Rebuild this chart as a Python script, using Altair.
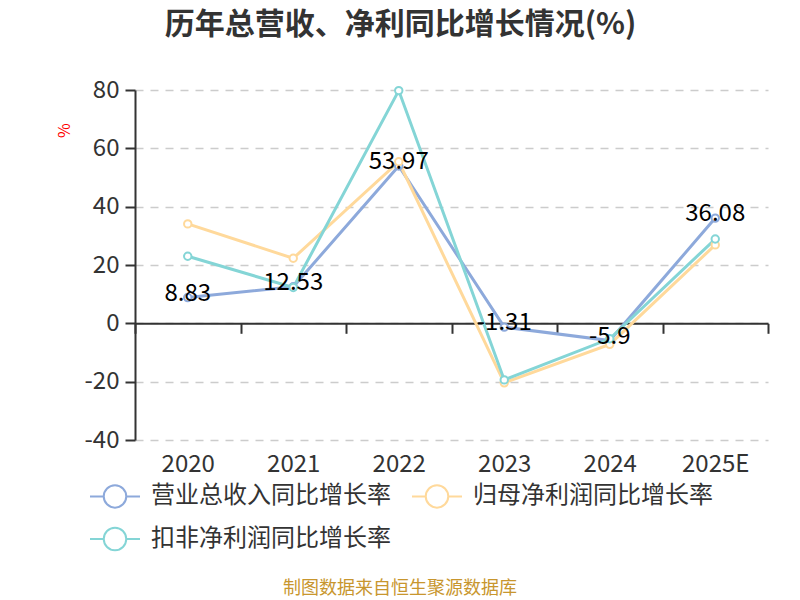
import altair as alt
import pandas as pd

years = ["2020", "2021", "2022", "2023", "2024", "2025E"]
series_names = ["营业总收入同比增长率", "归母净利润同比增长率", "扣非净利润同比增长率"]
revenue = [8.83, 12.53, 53.97, -1.31, -5.9, 36.08]
net_profit = [34.1, 22.3, 55.4, -20.4, -7.2, 26.9]
deducted = [23.0, 12.3, 79.8, -19.4, -5.3, 28.9]
colors = ["#8DA9DB", "#FFD99B", "#84D5D6"]

rows = []
for name, vals in zip(series_names, [revenue, net_profit, deducted]):
    for i, (y, v) in enumerate(zip(years, vals)):
        rows.append({"year": y, "value": v, "series": name, "order": series_names.index(name)})
df = pd.DataFrame(rows)
label_df = pd.DataFrame({"year": years, "value": revenue, "label": [f"{v:g}" for v in revenue]})

FONT = "Noto Sans CJK SC"

x_enc = alt.X(
    "year:N",
    sort=years,
    scale=alt.Scale(type="band", paddingInner=0, paddingOuter=0),
    bandPosition=0.5,
    axis=alt.Axis(
        title=None,
        labelAngle=0,
        labelFontSize=24,
        labelFont=FONT,
        labelColor="#333333",
        labelBaseline="top",
        labelPadding=119,
        domainColor="#333333",
        domainWidth=2,
        tickColor="#333333",
        tickWidth=2,
        tickSize=10,
        tickBand="extent",
        offset=-116.7,
        grid=False,
    ),
)
y_enc = alt.Y(
    "value:Q",
    scale=alt.Scale(domain=[-40, 80], nice=False, zero=False),
    axis=alt.Axis(
        title="%",
        titleColor="#FF0000",
        titleFontSize=16,
        titleFontWeight="normal",
        titleFont=FONT,
        titleX=-63,
        titleY=40,
        titleAlign="center",
        values=[-40, -20, 0, 20, 40, 60, 80],
        labelExpr="toString(datum.value)",
        labelFontSize=24,
        labelFont=FONT,
        labelColor="#333333",
        labelPadding=6,
        domainColor="#333333",
        domainWidth=2,
        tickColor="#333333",
        tickWidth=2,
        tickSize=10,
        gridColor="#CCCCCC",
        gridWidth=1.5,
        gridDash=[8, 7],
    ),
)

sym_path = "M-1,0L-0.45,0M0.45,0L1,0M-0.45,0A0.45,0.45,0,1,0,0.45,0A0.45,0.45,0,1,0,-0.45,0Z"

color_enc = alt.Color(
    "series:N",
    sort=series_names,
    scale=alt.Scale(domain=series_names, range=colors),
    legend=alt.Legend(
        title=None,
        orient="none",
        direction="horizontal",
        legendX=-46,
        legendY=380,
        columns=2,
        columnPadding=17,
        rowPadding=1,
        padding=0,
        symbolType=sym_path,
        symbolSize=2500,
        symbolStrokeWidth=2,
        symbolFillColor="white",
        symbolOffset=0,
        labelOffset=10,
        labelFontSize=24,
        labelFont=FONT,
        labelColor="#333333",
        labelLimit=400,
    ),
)

lines = alt.Chart(df).mark_line(strokeWidth=3).encode(
    x=x_enc, y=y_enc, color=color_enc, order="order:Q", detail="series:N"
)
points = alt.Chart(df).mark_point(filled=True, fill="white", size=55, strokeWidth=2, opacity=1).encode(
    x=alt.X("year:N", sort=years, bandPosition=0.5),
    y="value:Q",
    stroke=alt.Stroke("series:N", scale=alt.Scale(domain=series_names, range=colors), legend=None),
)
labels = alt.Chart(label_df).mark_text(fontSize=24, font=FONT, color="#000000", dy=-4, baseline="middle").encode(
    x=alt.X("year:N", sort=years, bandPosition=0.5),
    y="value:Q",
    text="label:N",
)
source = alt.Chart(pd.DataFrame({"t": ["制图数据来自恒生聚源数据库"]})).mark_text(
    fontSize=18, font=FONT, color="#C8962E", align="center", baseline="middle"
).encode(x=alt.value(265), y=alt.value(499), text="t:N")

chart = alt.layer(lines, points, labels, source).properties(
    width=633,
    height=350,
    autosize=alt.AutoSizeParams(type="none"),
    padding={"left": 127, "top": 82, "right": 24, "bottom": 160},
    title=alt.TitleParams(
        text="历年总营收、净利同比增长情况(%)",
        fontSize=30,
        fontWeight="bold",
        font=FONT,
        color="#333333",
        anchor="middle",
        dx=-51,
        offset=38,
    ),
).configure(background="white").configure_view(stroke=None)

chart.save("out.html", embed_options={"renderer": "svg", "actions": False})
